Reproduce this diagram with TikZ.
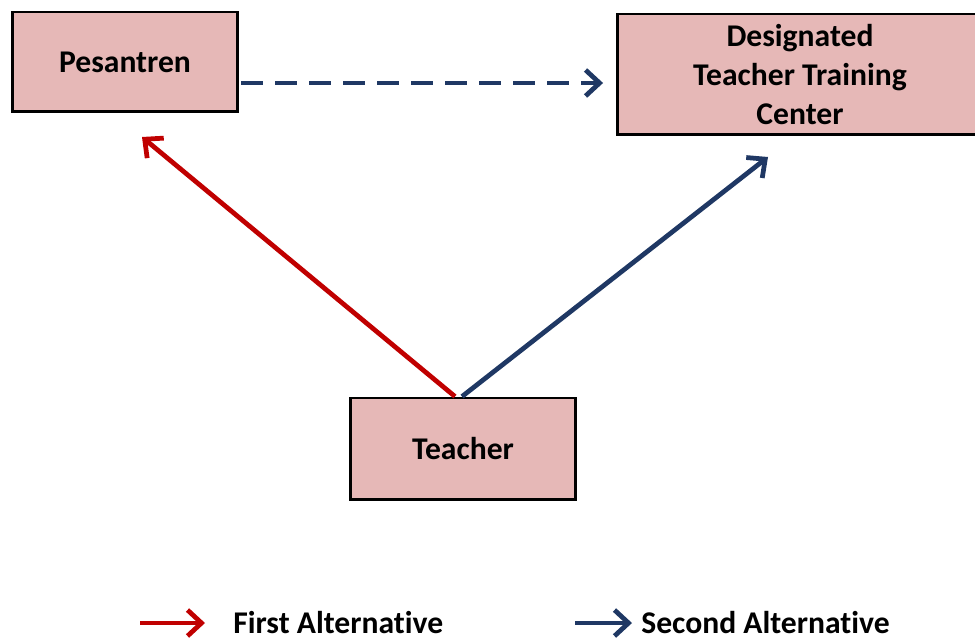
\documentclass[tikz,border=0pt]{standalone}
\usepackage{fontspec}
\setmainfont{Carlito}[Ligatures=NoCommon]
\usetikzlibrary{arrows.meta,calc,positioning}
\definecolor{AltRed}{RGB}{192,0,0}
\definecolor{AltBlue}{RGB}{31,56,100}
\definecolor{BoxFill}{RGB}{230,184,183}

\begin{document}
\begin{tikzpicture}[x=0.02cm,y=-0.02cm,>={Straight Barb[length=2.8mm,width=5.2mm]}]
        \tikzset{place/.style={draw=black,line width=1.7pt,fill=BoxFill,minimum width=4.52cm,minimum height=2cm,align=center,font=\fontsize{18}{22}\selectfont\bfseries},alt/.style={line width=2.7pt,->},legtext/.style={anchor=base west,inner sep=0pt,font=\fontsize{18}{22}\selectfont\bfseries}}
        \clip (0,0) rectangle (975,641);
        \node[place] (pes) at (125,62) {Pesantren};
        \node[place,minimum width=7.3cm,minimum height=2.42cm] (dttc) at (800,74.5) {Designated\\Teacher Training\\Center};
        \node[place,minimum height=2.04cm] (teach) at (463,449) {Teacher};
        \coordinate (pesIn) at (142,137);
        \coordinate (dttcIn) at (768,157);
        \draw[alt,AltRed] ($(teach.north)+(-8,0)$) -- (pesIn);
        \draw[alt,AltBlue] ($(teach.north)+(-1,0)$) -- (dttcIn);
        \draw[alt,AltBlue,dash pattern=on 0.44cm off 0.24cm] ($(pes.east)+(2,21)$) coordinate (dStart) -- ($(dttc.west |- dStart)+(-13,0)$);
        % legend
        \node[legtext] (first) at (233,634) {First Alternative};
        \node[legtext] (second) at (641,634) {Second Alternative};
        \draw[alt,AltRed] ($(first.west)+(-93,0)$) -- ($(first.west)+(-28,0)$);
        \draw[alt,AltBlue] ($(second.west)+(-66,0)$) -- ($(second.west)+(-9,0)$);
      \end{tikzpicture}
\end{document}
